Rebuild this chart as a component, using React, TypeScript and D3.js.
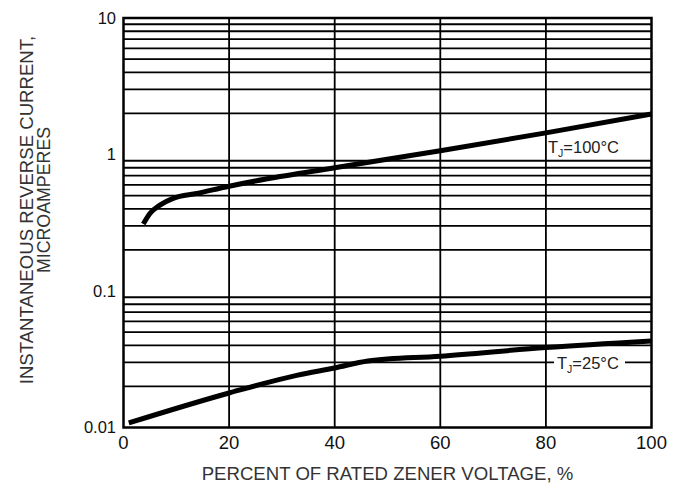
import React from "react";
import * as d3 from "d3";

const xTicks = [0, 20, 40, 60, 80, 100];
const yTickLabels = [
  { v: 0.01, label: "0.01" },
  { v: 0.1, label: "0.1" },
  { v: 1, label: "1" },
  { v: 10, label: "10" },
];
const curve100X = [3.75, 5, 6.9, 9.4, 13.9, 20, 27, 40, 60, 80, 100];
const curve100Y = [0.31, 0.37, 0.426, 0.477, 0.519, 0.586, 0.662, 0.8, 1.066, 1.44, 1.98];
const curve25X = [1, 20, 32.8, 40, 46.3, 60, 80, 100];
const curve25Y = [0.0108, 0.0179, 0.0241, 0.0273, 0.0307, 0.0333, 0.0385, 0.043];

const W = 682;
const H = 484;
const L = 123.5;
const R = 651.5;
const T = 18;
const B = 427.5;
const FONT = "Arial, 'Liberation Sans', sans-serif";

export default function App() {
  const x = d3.scaleLinear().domain([0, 100]).range([L, R]);
  const y = d3.scaleLog().domain([0.01, 10]).range([B, T]);

  const gridY: number[] = [];
  for (let d = 0.01; d < 10; d *= 10) {
    for (let k = 2; k <= 9; k++) gridY.push(+(d * k).toPrecision(3));
  }

  const line = d3
    .line<[number, number]>()
    .x((d) => x(d[0]))
    .y((d) => y(d[1]))
    .curve(d3.curveMonotoneX);

  const p100 = curve100X.map((v, i) => [v, curve100Y[i]] as [number, number]);
  const p25 = curve25X.map((v, i) => [v, curve25Y[i]] as [number, number]);

  return (
    <svg width={W} height={H} style={{ display: "block", position: "absolute", left: 0, top: 0 }}>
      <rect x={0} y={0} width={W} height={H} fill="#fff" />
      {gridY.map((v) => (
        <line key={v} x1={L} x2={R} y1={y(v)} y2={y(v)} stroke="#000" strokeWidth={1.8} />
      ))}
      {xTicks.slice(1, -1).map((v) => (
        <line key={v} x1={x(v)} x2={x(v)} y1={T} y2={B} stroke="#000" strokeWidth={1.8} />
      ))}
      {/* label backgrounds */}
      <rect x={547} y={138} width={77} height={19} fill="#fff" />
      <rect x={554} y={355} width={71} height={16} fill="#fff" />
      <path d={line(p100) || ""} fill="none" stroke="#000" strokeWidth={5} />
      <path d={line(p25) || ""} fill="none" stroke="#000" strokeWidth={5} />
      <rect x={L} y={T} width={R - L} height={B - T} fill="none" stroke="#000" strokeWidth={2.5} />
      <text x={548} y={152.5} fontFamily={FONT} fontSize={16.5} fill="#222">
        T<tspan fontSize={10.5} dy={4}>J</tspan>
        <tspan dy={-4}>=100°C</tspan>
      </text>
      <text x={557} y={369} fontFamily={FONT} fontSize={16.5} fill="#222">
        T<tspan fontSize={10.5} dy={4}>J</tspan>
        <tspan dy={-4}>=25°C</tspan>
      </text>
      {yTickLabels.map((t) => (
        <text
          key={t.label}
          x={116}
          y={y(t.v)}
          dy="0.36em"
          textAnchor="end"
          fontFamily={FONT}
          fontSize={16.5}
          fill="#111"
        >
          {t.label}
        </text>
      ))}
      {xTicks.map((v) => (
        <text key={v} x={x(v)} y={449} textAnchor="middle" fontFamily={FONT} fontSize={18.5} fill="#111">
          {v}
        </text>
      ))}
      <text x={(L + R) / 2} y={480} textAnchor="middle" fontFamily={FONT} fontSize={18.6} fill="#333">
        PERCENT OF RATED ZENER VOLTAGE, %
      </text>
      <text
        transform="translate(33,210) rotate(-90)"
        textAnchor="middle"
        fontFamily={FONT}
        fontSize={18.6}
        fill="#333"
      >
        INSTANTANEOUS REVERSE CURRENT,
      </text>
      <text
        transform="translate(50,200) rotate(-90)"
        textAnchor="middle"
        fontFamily={FONT}
        fontSize={17.8}
        fill="#333"
      >
        MICROAMPERES
      </text>
    </svg>
  );
}
